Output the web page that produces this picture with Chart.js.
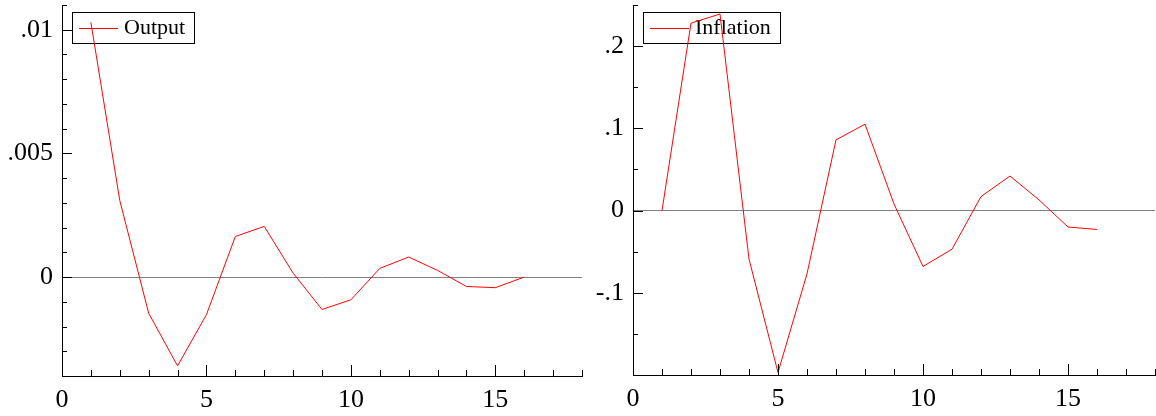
<!DOCTYPE html>
<html>
<head>
<meta charset="utf-8">
<script src="https://cdn.jsdelivr.net/npm/chart.js@4.4.1/dist/chart.umd.min.js"></script>
<style>
  html, body { margin: 0; padding: 0; background: #fff; }
  canvas { position: absolute; top: 0; }
</style>
</head>
<body>
<canvas id="outputChart" width="590" height="416" style="left:0"></canvas>
<canvas id="inflationChart" width="566" height="416" style="left:590px"></canvas>
<script>
// impulse responses, horizon 1..16
const steps = [1, 2, 3, 4, 5, 6, 7, 8, 9, 10, 11, 12, 13, 14, 15, 16];
const outputResp = [0.0103, 0.0031, -0.00146, -0.00359, -0.00152, 0.00164, 0.00205, 0.00016,
                    -0.00131, -0.00092, 0.00035, 0.00081, 0.00027, -0.00038, -0.00043, 0.0];
const inflationResp = [0.0, 0.228, 0.239, -0.059, -0.197, -0.077, 0.086, 0.105,
                       0.008, -0.068, -0.047, 0.017, 0.042, 0.013, -0.020, -0.023];

const serif = "'Liberation Serif', 'Times New Roman', serif";
const axisColor = '#000';

const isMajor = (v, step) => Math.abs(v / step - Math.round(v / step)) < 1e-6;
const fmt = v => String(parseFloat(v.toFixed(6))).replace(/^(-?)0\./, '$1.');

// tick marks pointing into the plot area, long on labelled values
const innerTicks = {
    id: 'innerTicks',
    afterDraw(chart, args, opts) {
        const ctx = chart.ctx;
        const { left, bottom } = chart.chartArea;
        ctx.save();
        ctx.strokeStyle = axisColor;
        ctx.lineWidth = 1;
        chart.scales.y.ticks.forEach(t => {
            const py = Math.round(chart.scales.y.getPixelForValue(t.value)) + 0.5;
            const len = isMajor(t.value, opts.yMajor) ? 10 : 5;
            ctx.beginPath();
            ctx.moveTo(left, py);
            ctx.lineTo(left + len, py);
            ctx.stroke();
        });
        chart.scales.x.ticks.forEach(t => {
            const px = Math.round(chart.scales.x.getPixelForValue(t.value)) + 0.5;
            const len = isMajor(t.value, opts.xMajor) ? 11 : 6;
            ctx.beginPath();
            ctx.moveTo(px, bottom);
            ctx.lineTo(px, bottom - len);
            ctx.stroke();
        });
        ctx.restore();
    }
};

// boxed legend in the upper left corner, drawn under the line
const boxLegend = {
    id: 'boxLegend',
    beforeDatasetsDraw(chart) {
        const ctx = chart.ctx;
        const ds = chart.data.datasets[0];
        const x0 = chart.chartArea.left + 10;
        const y0 = chart.chartArea.top + 7;
        ctx.save();
        ctx.font = '22px ' + serif;
        const tw = ctx.measureText(ds.label).width;
        const w = 7 + 39 + 6 + tw + 9;
        const h = 31;
        ctx.strokeStyle = axisColor;
        ctx.lineWidth = 1;
        ctx.strokeRect(Math.round(x0) + 0.5, Math.round(y0) + 0.5, Math.round(w), h);
        ctx.strokeStyle = ds.borderColor;
        ctx.beginPath();
        ctx.moveTo(x0 + 7, Math.round(y0 + h / 2) + 0.5);
        ctx.lineTo(x0 + 46, Math.round(y0 + h / 2) + 0.5);
        ctx.stroke();
        ctx.fillStyle = '#000';
        ctx.textBaseline = 'middle';
        ctx.fillText(ds.label, x0 + 52, y0 + h / 2 + 1);
        ctx.restore();
    }
};

function makeChart(id, label, values, yMin, yMax, yStep, yMajor, yWidth, xHeight, padRight) {
    return new Chart(document.getElementById(id), {
        type: 'line',
        data: {
            datasets: [{
                label: label,
                data: steps.map((s, i) => ({ x: s, y: values[i] })),
                borderColor: '#ff0000',
                borderWidth: 1,
                pointRadius: 0,
                tension: 0,
                fill: false
            }]
        },
        options: {
            responsive: false,
            animation: false,
            layout: { padding: { top: 5, right: padRight, left: 0, bottom: 0 } },
            scales: {
                x: {
                    type: 'linear',
                    min: 0,
                    max: 18,
                    afterFit: s => { s.height = xHeight; s.paddingLeft = 0; s.paddingRight = 0; },
                    border: { color: axisColor, width: 1 },
                    grid: { display: false, drawTicks: false },
                    ticks: {
                        stepSize: 1,
                        autoSkip: false,
                        maxRotation: 0,
                        padding: 9,
                        color: '#000',
                        font: { family: serif, size: 26 },
                        callback: v => isMajor(v, 5) ? fmt(v) : ''
                    }
                },
                y: {
                    type: 'linear',
                    min: yMin,
                    max: yMax,
                    afterFit: s => { s.width = yWidth; s.paddingTop = 0; s.paddingBottom = 0; },
                    border: { color: axisColor, width: 1 },
                    grid: {
                        drawTicks: false,
                        color: c => (c.tick && Math.abs(c.tick.value) < 1e-9) ? '#808080' : 'rgba(0,0,0,0)'
                    },
                    ticks: {
                        stepSize: yStep,
                        autoSkip: false,
                        padding: 9,
                        color: '#000',
                        font: { family: serif, size: 26 },
                        // the bottom value is left unlabelled
                        callback: (v, i) => (i > 0 && isMajor(v, yMajor)) ? fmt(v) : ''
                    }
                }
            },
            plugins: {
                legend: { display: false },
                tooltip: { enabled: false },
                innerTicks: { yMajor: yMajor, xMajor: 5 }
            }
        },
        plugins: [innerTicks, boxLegend]
    });
}

makeChart('outputChart', 'Output', outputResp, -0.004, 0.011, 0.001, 0.005, 62, 40, 8);
makeChart('inflationChart', 'Inflation', inflationResp, -0.2, 0.25, 0.05, 0.1, 43, 41, 1);
</script>
</body>
</html>
